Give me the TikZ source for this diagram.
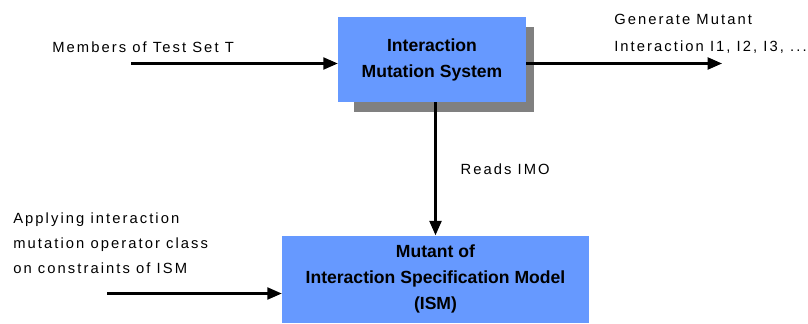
\documentclass[tikz,border=0pt]{standalone}
\usepackage{fontspec}
\setmainfont{Liberation Sans}
\newfontfamily\spacedfont[LetterSpace=14]{Liberation Sans}
\usepackage{tikz}
\usetikzlibrary{arrows.meta, positioning, backgrounds, calc}

\definecolor{boxblue}{HTML}{6699FF}
\definecolor{shadowgray}{HTML}{808080}

\newcommand{\boxtext}{\fontsize{12.5}{18.5}\selectfont\bfseries}
\newcommand{\notetext}{\fontsize{10.5}{17.7}\selectfont\spacedfont}

\begin{document}
\begin{tikzpicture}[
    % --- STYLES ---
    base/.style={align=center, inner sep=0pt, text=black},
    block/.style={base, rectangle, fill=boxblue, font=\boxtext},
    system/.style={block, minimum width=4.7cm, minimum height=2.125cm},
    model/.style={block, minimum width=7.675cm, minimum height=2.175cm},
    note/.style={base, align=left, font=\notetext},
    arrow/.style={-{Triangle[length=3.6mm, width=3mm]}, line width=1.6pt, color=black}
]
    \useasboundingbox (0,0) rectangle (20.2,8.075);

    % ==========================================
    % BLOCKS
    % ==========================================
    \node[system] (ims) at (10.8,6.5875) {Interaction\\Mutation System};
    \node[model, below=3.325cm of ims, xshift=0.875mm] (ism)
        {Mutant of\\Interaction Specification Model\\(ISM)};

    % drop shadow behind the mutation system
    \begin{scope}[on background layer]
        \fill[shadowgray] ([xshift=4mm, yshift=-2.5mm]ims.south west)
            rectangle ([xshift=2mm, yshift=-2.5mm]ims.north east);
    \end{scope}

    % ==========================================
    % INPUTS AND OUTPUTS
    % ==========================================
    \coordinate (tests) at (3.275,6.4875);
    \coordinate (mutants) at (18.05,6.4875);
    \coordinate (operators) at (2.675,0.7375);

    \node[note, anchor=west] (testlabel) at (1.3,6.9) {Members of Test Set T};
    \node[note, anchor=west] (mutantlabel) at (15.35,7.22)
        {Generate Mutant\\[1.5pt]Interaction I1, I2, I3, ...};
    \node[note, anchor=west] (oplabel) at (0.325,2.0)
        {Applying interaction\\mutation operator class\\on constraints of ISM};

    \draw[arrow] (tests) -- (tests -| ims.west);
    \draw[arrow] (ims.east |- mutants) -- (mutants);
    \draw[arrow] (operators) -- (operators -| ism.west);

    % system reads the operators into the model
    \draw[arrow] (ism.north |- ims.south) -- node[note, right=0.6cm] (readlabel) {Reads IMO} (ism.north);

\end{tikzpicture}
\end{document}
